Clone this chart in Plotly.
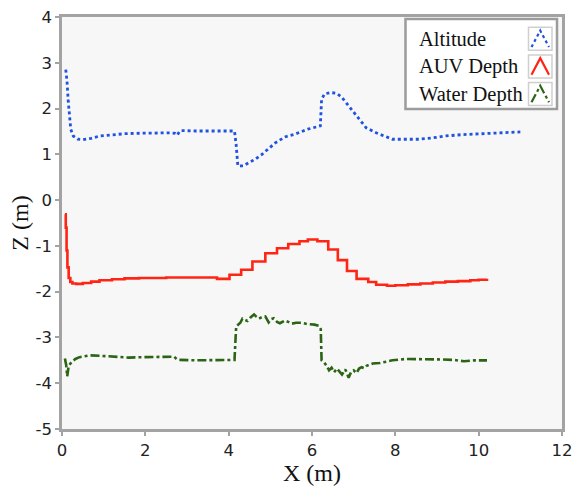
import plotly.graph_objects as go

# Altitude above the seabed (m) along the track
alt_x = [0.09, 0.12, 0.15, 0.18, 0.21, 0.27, 0.38, 0.5, 0.7, 0.9,
         1.2, 1.5, 1.8, 2.2, 2.6, 2.72, 2.77, 2.82, 2.87, 3.2,
         3.6, 4.0, 4.14, 4.18, 4.22, 4.35, 4.49, 4.65, 4.8, 4.95,
         5.12, 5.35, 5.59, 5.9, 6.17, 6.2, 6.23, 6.3, 6.45, 6.6,
         6.72, 6.92, 7.15, 7.3, 7.54, 7.75, 7.93, 8.2, 8.57, 8.9,
         9.19, 9.6, 9.97, 10.5, 11.0]
alt_y = [2.85, 2.6, 2.16, 1.8, 1.55, 1.4, 1.33, 1.32, 1.35, 1.4,
         1.43, 1.45, 1.46, 1.47, 1.47, 1.46, 1.42, 1.5, 1.52, 1.51,
         1.51, 1.51, 1.51, 1.2, 0.75, 0.75, 0.82, 0.9, 1.0, 1.12,
         1.25, 1.38, 1.44, 1.55, 1.6, 1.62, 2.2, 2.32, 2.35, 2.33,
         2.24, 2.02, 1.76, 1.58, 1.47, 1.39, 1.33, 1.33, 1.33, 1.36,
         1.40, 1.43, 1.45, 1.47, 1.49]

# AUV depth (m), logged as stepped set-points
auv_x = [0.07, 0.09, 0.11, 0.13, 0.16, 0.2, 0.25, 0.34, 0.5, 0.7,
         0.9, 1.2, 1.5, 1.85, 2.5, 3.0, 3.6, 3.72, 4.02, 4.30,
         4.57, 4.88, 5.16, 5.43, 5.70, 5.90, 6.13, 6.39, 6.62, 6.84,
         7.07, 7.35, 7.54, 7.8, 8.0, 8.3, 8.6, 8.9, 9.2, 9.5,
         9.8, 10.0, 10.2]
auv_y = [-0.31, -0.6, -1.1, -1.47, -1.7, -1.79, -1.82, -1.83, -1.81, -1.78,
         -1.75, -1.73, -1.71, -1.70, -1.69, -1.69, -1.69, -1.72, -1.63, -1.52,
         -1.34, -1.16, -1.05, -0.96, -0.90, -0.86, -0.90, -1.08, -1.31, -1.55,
         -1.72, -1.79, -1.85, -1.87, -1.86, -1.84, -1.82, -1.80, -1.78, -1.77,
         -1.75, -1.74, -1.72]

# Water depth (m) under the vehicle
wd_x = [0.07, 0.1, 0.125, 0.16, 0.23, 0.32, 0.42, 0.66, 0.9, 1.2,
        1.6, 2.0, 2.4, 2.69, 2.75, 2.81, 3.2, 3.6, 3.94, 4.14,
        4.18, 4.22, 4.28, 4.33, 4.39, 4.45, 4.53, 4.61, 4.67, 4.73,
        4.81, 4.88, 4.96, 5.02, 5.08, 5.16, 5.23, 5.35, 5.43, 5.51,
        5.62, 5.74, 5.9, 6.06, 6.17, 6.21, 6.23, 6.29, 6.35, 6.41,
        6.47, 6.53, 6.6, 6.66, 6.72, 6.8, 6.88, 6.94, 7.0, 7.07,
        7.13, 7.19, 7.25, 7.31, 7.38, 7.46, 7.62, 7.8, 7.93, 8.25,
        8.6, 9.03, 9.4, 9.65, 9.9, 10.2]
wd_y = [-3.46, -3.6, -3.85, -3.62, -3.54, -3.47, -3.43, -3.39, -3.40, -3.42,
        -3.44, -3.43, -3.43, -3.42, -3.47, -3.49, -3.50, -3.50, -3.50, -3.49,
        -2.76, -2.72, -2.68, -2.59, -2.62, -2.64, -2.56, -2.50, -2.55, -2.59,
        -2.55, -2.54, -2.67, -2.60, -2.58, -2.66, -2.69, -2.63, -2.66, -2.70,
        -2.68, -2.68, -2.71, -2.72, -2.75, -2.82, -3.50, -3.54, -3.62, -3.72,
        -3.66, -3.76, -3.68, -3.74, -3.81, -3.70, -3.88, -3.75, -3.72, -3.78,
        -3.68, -3.65, -3.67, -3.62, -3.60, -3.57, -3.56, -3.52, -3.50, -3.47,
        -3.47, -3.48, -3.49, -3.52, -3.50, -3.50]

series_names = ["Altitude", "AUV Depth", "Water Depth"]
series_colors = ["#1f52e0", "#ff2414", "#2b6414"]
series_dash = ["dot", "solid", "dashdot"]

x_tick_vals = [0, 2, 4, 6, 8, 10, 12]
x_tick_labels = ["0", "2", "4", "6", "8", "10", "12"]
y_tick_vals = [-5, -4, -3, -2, -1, 0, 1, 2, 3, 4]
y_tick_labels = ["-5", "-4", "-3", "-2", "-1", "0", "1", "2", "3", "4"]

SERIF = "Liberation Serif, Times New Roman, serif"
SANS = "DejaVu Sans, sans-serif"
AXIS_GREY = "#a3a3a3"

fig = go.Figure()
fig.add_trace(go.Scatter(x=alt_x, y=alt_y, mode="lines", name=series_names[0],
                         line=dict(color=series_colors[0], width=2.8, dash=series_dash[0])))
fig.add_trace(go.Scatter(x=auv_x, y=auv_y, mode="lines", name=series_names[1],
                         line=dict(color=series_colors[1], width=2.6, dash=series_dash[1],
                                   shape="hv")))
fig.add_trace(go.Scatter(x=wd_x, y=wd_y, mode="lines", name=series_names[2],
                         line=dict(color=series_colors[2], width=2.6, dash=series_dash[2])))

# Legend box: names on the left, small caret icons on the right
shapes = [dict(type="rect", xref="paper", yref="paper", x0=0.687, x1=0.990,
               y0=0.777, y1=0.995, line=dict(color="#9c9c9c", width=2.5),
               fillcolor="white", layer="above")]
annotations = []
row_y = [0.947, 0.880, 0.813]
icon_x0, icon_x1 = 0.933, 0.980
icon_half = 0.028
for name, color, dash, yc in zip(series_names, series_colors, series_dash, row_y):
    annotations.append(dict(text=name, xref="paper", yref="paper", x=0.709, y=yc,
                            xanchor="left", yanchor="middle", showarrow=False,
                            font=dict(family=SERIF, size=20.5, color="#111")))
    y0, y1 = yc - icon_half, yc + icon_half
    shapes.append(dict(type="rect", xref="paper", yref="paper", x0=icon_x0, x1=icon_x1,
                       y0=y0, y1=y1, line=dict(color="#cfcfcf", width=1.5),
                       fillcolor="white", layer="above"))
    xm = (icon_x0 + icon_x1) / 2
    path = (f"M {icon_x0 + 0.006},{y0 + 0.008} L {xm},{y1 - 0.008} "
            f"L {icon_x1 - 0.006},{y0 + 0.008}")
    shapes.append(dict(type="path", xref="paper", yref="paper", path=path,
                       line=dict(color=color, width=2.2, dash=dash), layer="above"))

fig.update_layout(
    width=581, height=489,
    margin=dict(l=62, r=8, t=16, b=60),
    paper_bgcolor="white",
    plot_bgcolor="#f7f7f7",
    showlegend=False,
    shapes=shapes,
    annotations=annotations,
    xaxis=dict(range=[0, 12], tickvals=x_tick_vals, ticktext=x_tick_labels,
               ticks="outside", ticklen=4, tickwidth=1.5, tickcolor=AXIS_GREY,
               showline=True, linecolor=AXIS_GREY, linewidth=2.5, mirror=True,
               showgrid=False, zeroline=False,
               tickfont=dict(family=SANS, size=16.5, color="#222"),
               title=dict(text="X (m)", standoff=0,
                          font=dict(family=SERIF, size=24, color="#111"))),
    yaxis=dict(range=[-5, 4], tickvals=y_tick_vals, ticktext=y_tick_labels,
               ticks="outside", ticklen=4, tickwidth=1.5, tickcolor=AXIS_GREY,
               showline=True, linecolor=AXIS_GREY, linewidth=2.5, mirror=True,
               showgrid=False, zeroline=False,
               tickfont=dict(family=SANS, size=16.5, color="#222"),
               title=dict(text="Z (m)", standoff=1,
                          font=dict(family=SERIF, size=24, color="#111"))),
)

fig.write_html("out.html")
